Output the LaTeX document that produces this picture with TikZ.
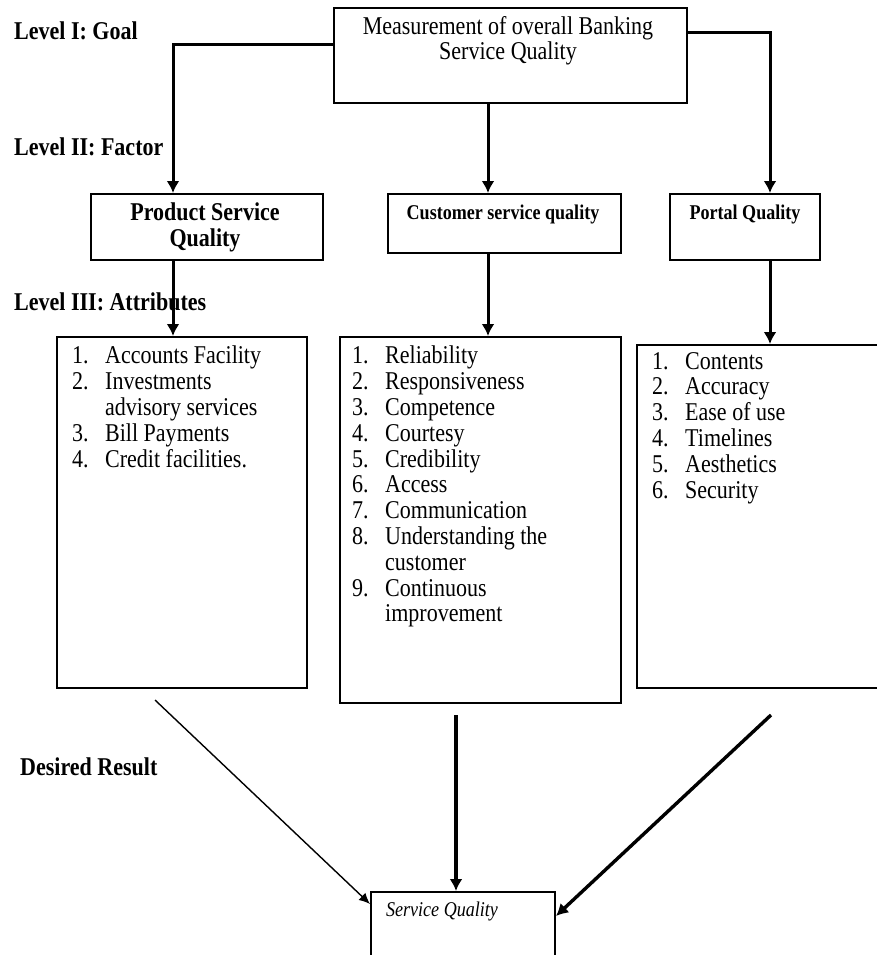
\documentclass[tikz,border=0pt]{standalone}
\usepackage{fontspec}
\setmainfont{Liberation Serif}[FakeStretch=0.86]
\usepackage{tikz}
\usetikzlibrary{arrows.meta}

\newcommand{\itm}[2]{\makebox[33pt][l]{#1}#2}

\begin{document}
\begin{tikzpicture}[x=1pt,y=-1pt,
	box/.style={draw,rectangle,line width=2pt,inner sep=0},
	conn/.style={line width=3pt,-{Latex[length=12pt,width=13pt]}},
	thinconn/.style={line width=1.4pt,-{Latex[length=11pt,width=10pt]}},
	thickconn/.style={line width=3.4pt,-{Latex[length=12pt,width=13pt]}},
	lvl/.style={anchor=west,inner sep=0,font=\fontsize{25.6}{25}\selectfont\bfseries},
	hd/.style={align=center,inner sep=0,font=\fontsize{25.6}{25}\selectfont},
	sub/.style={inner sep=0,font=\fontsize{21}{21}\selectfont\bfseries},
	list/.style={anchor=north west,align=left,inner sep=0,font=\fontsize{25.6}{25.8}\selectfont}]
	
	\useasboundingbox (0,0) rectangle (877,955);
	\clip (0,0) rectangle (877,955);
	
	\node[box,minimum width=353,minimum height=95] (goal) at (510.5,55.5) {};
	\node[box,minimum width=232,minimum height=66] (psq) at (207,227) {};
	\node[box,minimum width=233,minimum height=59] (csq) at (504.5,223.5) {};
	\node[box,minimum width=150,minimum height=66] (pq) at (745,227) {};
	\node[box,minimum width=250,minimum height=351] (pattr) at (182,512.5) {};
	\node[box,minimum width=281,minimum height=366] (cattr) at (480.5,520) {};
	\node[box,minimum width=266,minimum height=343] (rattr) at (770,516.5) {};
	\node[box,minimum width=184,minimum height=80] (sq) at (463,932) {};
	
	\node[lvl] (l1) at (14,31) {Level I: Goal};
	\node[lvl] (l2) at (14,147) {Level II: Factor};
	\node[lvl] (l3) at (14,302) {Level III: Attributes};
	\node[lvl] (res) at (20,767) {Desired Result};
	
	\node[hd] (goaltxt) at (508,41) {Measurement of overall Banking\\Service Quality};
	\node[hd,font=\fontsize{25.6}{26}\selectfont\bfseries] (psqtxt) at (205,227) {Product Service\\Quality};
	\node[sub] (csqtxt) at (503,214) {Customer service quality};
	\node[sub] (pqtxt) at (745,214) {Portal Quality};
	\node[inner sep=0,font=\fontsize{21}{21}\selectfont\itshape] (sqtxt) at (442,911) {Service Quality};
	
	\node[list] (plist) at (72,346) {\itm{1.}{Accounts Facility}\\\itm{2.}{Investments}\\\itm{}{advisory services}\\\itm{3.}{Bill Payments}\\\itm{4.}{Credit facilities.}};
	\node[list] (clist) at (352,346) {\itm{1.}{Reliability}\\\itm{2.}{Responsiveness}\\\itm{3.}{Competence}\\\itm{4.}{Courtesy}\\\itm{5.}{Credibility}\\\itm{6.}{Access}\\\itm{7.}{Communication}\\\itm{8.}{Understanding the}\\\itm{}{customer}\\\itm{9.}{Continuous}\\\itm{}{improvement}};
	\node[list] (rlist) at (652,352) {\itm{1.}{Contents}\\\itm{2.}{Accuracy}\\\itm{3.}{Ease of use}\\\itm{4.}{Timelines}\\\itm{5.}{Aesthetics}\\\itm{6.}{Security}};
	
	\draw[conn] ([yshift=10.5pt]goal.west) -| ([xshift=-34pt]psq.north);
	\draw[conn] ([xshift=-22.5pt]goal.south) -- ([xshift=-16.5pt]csq.north);
	\draw[conn] ([yshift=22.5pt]goal.east) -| ([xshift=25pt]pq.north);
	
	\draw[conn] ([xshift=-34pt]psq.south) -- ([xshift=-9pt]pattr.north);
	\draw[conn] ([xshift=-16.5pt]csq.south) -- ([xshift=7.5pt]cattr.north);
	\draw[conn] ([xshift=25pt]pq.south) -- (rattr.north);
	
	\draw[thinconn] ([xshift=-27pt,yshift=-11pt]pattr.south) -- ([yshift=-13pt]sq.north west);
	\draw[thickconn] ([xshift=-24.5pt,yshift=-11pt]cattr.south) -- ([xshift=-7pt]sq.north);
	\draw[thickconn] ([xshift=1pt,yshift=-26pt]rattr.south) -- ([yshift=-25pt]sq.north east);
	
\end{tikzpicture}
\end{document}
